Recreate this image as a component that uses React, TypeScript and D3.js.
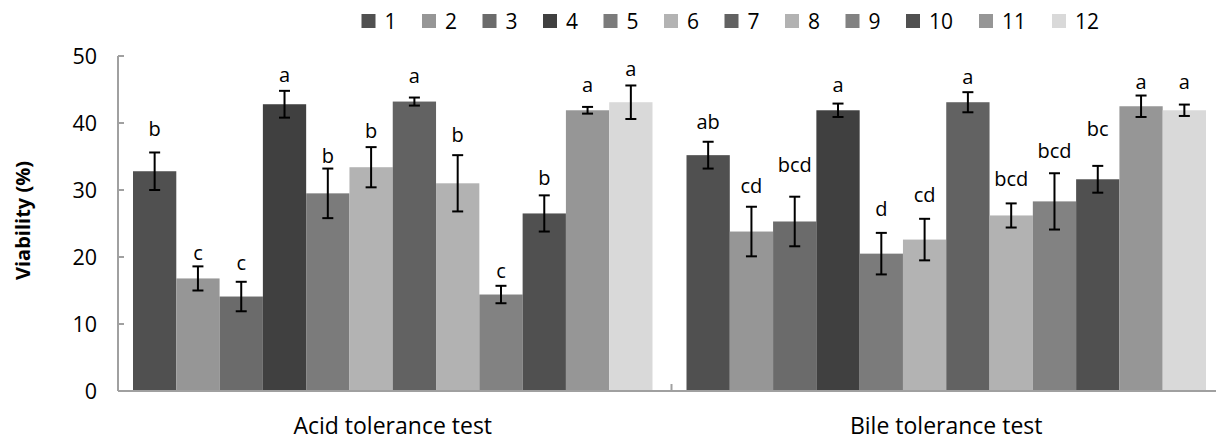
import React from 'react';
import * as d3 from 'd3';

// ---- data ----
const groups = ['Acid tolerance test', 'Bile tolerance test'];
const series = ['1', '2', '3', '4', '5', '6', '7', '8', '9', '10', '11', '12'];
const seriesColors = ['#505050', '#969696', '#6b6b6b', '#404040', '#7b7b7b', '#b3b3b3',
  '#626262', '#b2b2b2', '#828282', '#505050', '#969696', '#d9d9d9'];

const acidMeans = [32.8, 16.8, 14.1, 42.8, 29.5, 33.4, 43.2, 31.0, 14.4, 26.5, 41.9, 43.1];
const acidErr = [2.8, 1.8, 2.2, 2.0, 3.7, 3.0, 0.6, 4.2, 1.3, 2.7, 0.5, 2.5];
const acidLetters = ['b', 'c', 'c', 'a', 'b', 'b', 'a', 'b', 'c', 'b', 'a', 'a'];
const acidLetterLevel = [38.1, 19.6, 18.0, 46.1, 34.1, 37.7, 45.9, 37.2, 16.8, 30.8, 44.6, 47.0];

const bileMeans = [35.2, 23.8, 25.3, 41.9, 20.5, 22.6, 43.1, 26.2, 28.3, 31.6, 42.5, 41.9];
const bileErr = [2.0, 3.7, 3.7, 1.0, 3.1, 3.1, 1.5, 1.8, 4.2, 2.0, 1.6, 0.85];
const bileLetters = ['ab', 'cd', 'bcd', 'a', 'd', 'cd', 'a', 'bcd', 'bcd', 'bc', 'a', 'a'];
const bileLetterLevel = [39.1, 29.5, 32.7, 44.6, 26.1, 28.2, 45.8, 30.6, 34.8, 38.1, 45.1, 45.1];

const yTicks = [0, 10, 20, 30, 40, 50];

const means = [acidMeans, bileMeans];
const errs = [acidErr, bileErr];
const letters = [acidLetters, bileLetters];
const letterLevels = [acidLetterLevel, bileLetterLevel];

/* layout */
const W = 1216, H = 441;
const M = { l: 118, r: -9, t: 56, b: 50 };
const FONT = '"Open Sans", "DejaVu Sans", sans-serif';
const AXIS = '#a0a0a0';

export default function App() {
  const x0 = d3.scaleBand<string>().domain(groups).range([M.l, W - M.r]);
  const x1 = d3.scaleBand<string>().domain(series).range([15, x0.bandwidth() - 19]);
  const y = d3.scaleLinear().domain([0, 50]).range([H - M.b, M.t]);
  const cap = 5.5;

  return (
    <div style={{ position: 'fixed', left: 0, top: 0 }}>
      <svg width={W} height={H} style={{ display: 'block', background: '#fff' }} fontFamily={FONT}>
        {/* legend */}
        {series.map((s, i) => {
          const lx = 361.5 + series.slice(0, i).reduce((a, t) => a + 48 + 12.5 * t.length, 0);
          return (
            <g key={s} transform={`translate(${lx},14)`}>
              <rect width={14} height={14} fill={seriesColors[i]} />
              <text x={23} y={15} fontSize={21} fill="#000">{s}</text>
            </g>
          );
        })}

        {/* y axis */}
        <line x1={M.l} x2={M.l} y1={y(50)} y2={y(0)} stroke={AXIS} strokeWidth={2} />
        {yTicks.map(t => (
          <g key={t}>
            <line x1={M.l} x2={M.l + 6} y1={y(t)} y2={y(t)} stroke={AXIS} strokeWidth={2} />
            <text x={97} y={y(t)} dy="0.36em" textAnchor="end" fontSize={21.5} fill="#000">{t}</text>
          </g>
        ))}
        <text
          transform={`translate(30,${(y(50) + y(0)) / 2 - 3}) rotate(-90)`}
          textAnchor="middle" fontSize={20} fontWeight="bold" fill="#000"
        >Viability (%)</text>

        {/* bars */}
        {groups.map((g, gi) => {
          const gx = x0(g) as number;
          return (
            <g key={g} transform={`translate(${gx},0)`}>
              {series.map((s, i) => {
                const bx = x1(s) as number;
                const cx = bx + x1.bandwidth() / 2;
                const v = means[gi][i], e = errs[gi][i];
                return (
                  <g key={s}>
                    <rect x={bx} y={y(v)} width={x1.bandwidth()} height={y(0) - y(v)} fill={seriesColors[i]} />
                    <line x1={cx} x2={cx} y1={y(v + e)} y2={y(v - e)} stroke="#000" strokeWidth={2} />
                    <line x1={cx - cap} x2={cx + cap} y1={y(v + e)} y2={y(v + e)} stroke="#000" strokeWidth={2} />
                    <line x1={cx - cap} x2={cx + cap} y1={y(v - e)} y2={y(v - e)} stroke="#000" strokeWidth={2} />
                    <text x={cx} y={y(letterLevels[gi][i])} textAnchor="middle" fontSize={20} fill="#000">
                      {letters[gi][i]}
                    </text>
                  </g>
                );
              })}
              <text
                x={(x1.range()[0] + x1.range()[1]) / 2}
                y={434}
                textAnchor="middle" fontSize={23} fill="#000"
              >{g}</text>
            </g>
          );
        })}

        {/* x axis */}
        <line x1={M.l} x2={W} y1={y(0)} y2={y(0)} stroke={AXIS} strokeWidth={2} />
        <line x1={x0(groups[1])} x2={x0(groups[1])} y1={y(0)} y2={y(0) - 7} stroke={AXIS} strokeWidth={2} />
      </svg>
    </div>
  );
}
